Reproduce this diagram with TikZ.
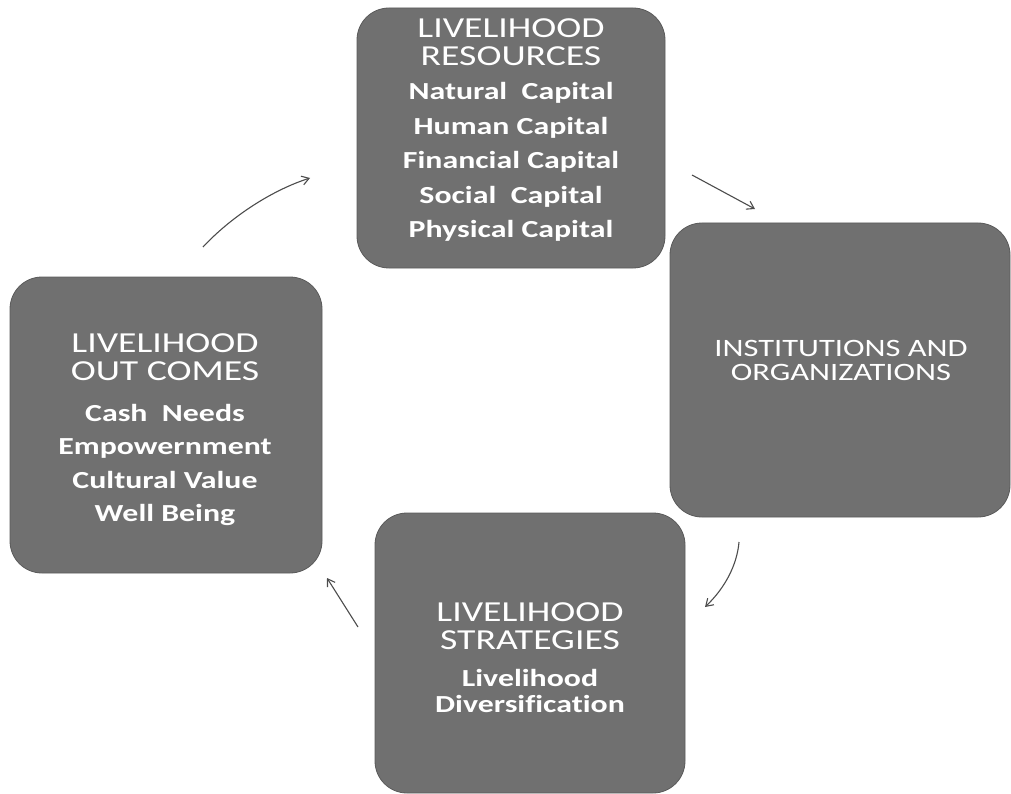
\documentclass[tikz,border=0pt]{standalone}
\usepackage{fontspec}
\setmainfont{Carlito}[FakeStretch=1.3, Ligatures=NoCommon]
\usetikzlibrary{arrows.meta}

\begin{document}
\begin{tikzpicture}[x=1pt, y=-1pt,
  box/.style={fill=boxgray, draw=boxgray!80!black, line width=0.8pt,
    rounded corners=32pt},
  hd/.style={text=white, align=center, inner sep=0pt,
    font=\fontsize{29}{27.5}\selectfont},
  lst/.style={text=white, align=center, inner sep=0pt,
    font=\fontsize{24.5}{34.5}\selectfont\bfseries},
  arr/.style={draw=black!70, line width=1.1pt,
    -{Straight Barb[length=7pt, width=9pt]}}]
\definecolor{boxgray}{RGB}{112,112,112}
\useasboundingbox (0, 0) rectangle (1011, 794);

\node[box, minimum width=308pt, minimum height=260pt] (res) at (511, 138) {};
\node[box, minimum width=312pt, minimum height=296pt] (outc) at (166, 425) {};
\node[box, minimum width=340pt, minimum height=294pt] (inst) at (840, 370) {};
\node[box, minimum width=310pt, minimum height=280pt] (strat) at (530, 653) {};

\node[hd] (reshd) at (511, 42) {LIVELIHOOD\\RESOURCES};
\node[lst] (reslst) at (511, 162)
  {Natural\ \ Capital\\Human Capital\\Financial Capital\\Social\ \ Capital\\Physical Capital};

\node[hd] (outchd) at (165, 357) {LIVELIHOOD\\OUT COMES};
\node[lst, font=\fontsize{24.5}{33.5}\selectfont\bfseries] (outclst) at (165, 465)
  {Cash\ \ Needs\\Empowernment\\Cultural Value\\Well Being};

\node[hd, font=\fontsize{25}{24}\selectfont] (insthd) at (841, 360)
  {INSTITUTIONS AND\\ORGANIZATIONS};

\node[hd] (strathd) at (530, 626) {LIVELIHOOD\\STRATEGIES};
\node[lst, font=\fontsize{24.5}{25.5}\selectfont\bfseries] (stratlst) at (530, 691)
  {Livelihood\\Diversification};

\coordinate (a1s) at (203, 247);
\coordinate (a1e) at (310, 178);
\coordinate (a2s) at (692, 175);
\coordinate (a2e) at (755, 209);
\coordinate (a3s) at (739, 542);
\coordinate (a3e) at (705, 607);
\coordinate (a4s) at (358, 627);
\coordinate (a4e) at (327, 578);

\draw[arr] (a1s) .. controls (230, 218) and (270, 191) .. (a1e);
\draw[arr] (a2s) -- (a2e);
\draw[arr] (a3s) .. controls (737, 565) and (725, 588) .. (a3e);
\draw[arr] (a4s) -- (a4e);

\end{tikzpicture}
\end{document}
